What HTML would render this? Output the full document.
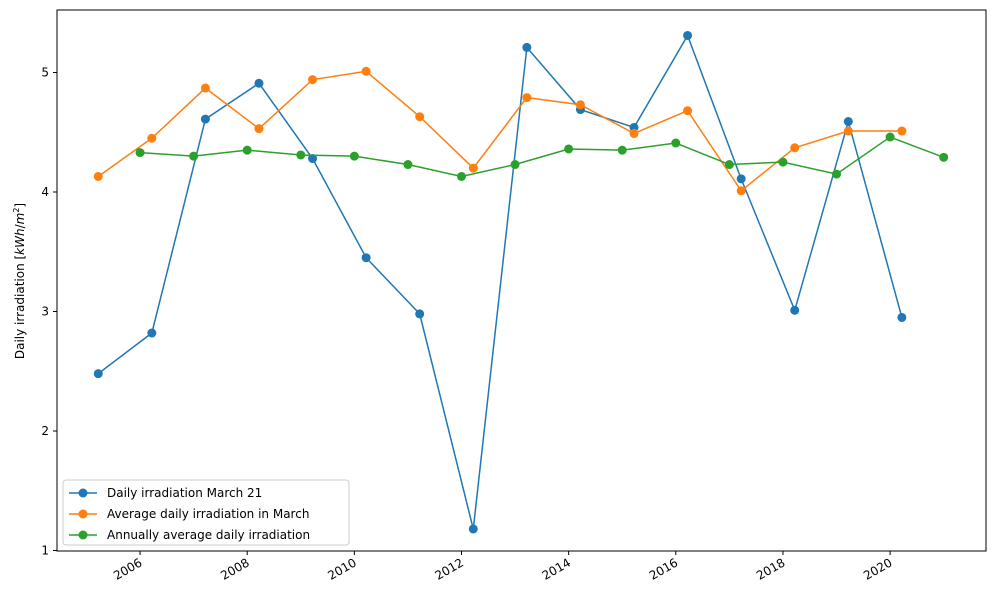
<!DOCTYPE html>
<html><head><meta charset="utf-8"><style>
body{margin:0;background:#fff;font-family:"Liberation Sans","DejaVu Sans",sans-serif}
svg text{font-family:"DejaVu Sans","Liberation Sans",sans-serif;font-size:12px;fill:#000}
</style></head><body>
<svg id="chart" width="995" height="603" xmlns="http://www.w3.org/2000/svg"></svg>
<script>
const years=[2005,2006,2007,2008,2009,2010,2011,2012,2013,2014,2015,2016,2017,2018,2019,2020];
const march21=[2.48,2.82,4.61,4.91,4.28,3.45,2.98,1.18,5.21,4.69,4.54,5.31,4.11,3.01,4.59,2.95];
const marchAvg=[4.13,4.45,4.87,4.53,4.94,5.01,4.63,4.20,4.79,4.73,4.49,4.68,4.01,4.37,4.51,4.51];
const annualYears=[2006,2007,2008,2009,2010,2011,2012,2013,2014,2015,2016,2017,2018,2019,2020,2021];
const annualAvg=[4.33,4.30,4.35,4.31,4.30,4.23,4.13,4.23,4.36,4.35,4.41,4.23,4.25,4.15,4.46,4.29];
const xTicks=[2006,2008,2010,2012,2014,2016,2018,2020];
const yTicks=[1,2,3,4,5];
const L=57,R=986,T=10,B=551;
const xMin=2004.45,xMax=2021.79;
const X=v=>L+(v-xMin)/(xMax-xMin)*(R-L);
const Y=v=>550.5-(v-1)*119.5;
const svg=document.getElementById('chart');
const NS='http://www.w3.org/2000/svg';
function mk(tag,attrs,parent){const e=document.createElementNS(NS,tag);for(const k in attrs)e.setAttribute(k,attrs[k]);(parent||svg).appendChild(e);return e;}
const frame=mk('rect',{x:L,y:T,width:R-L,height:B-T,fill:'none',stroke:'#000','stroke-width':1});


xTicks.forEach(t=>{const x=X(t);
 const tk=mk('line',{x1:x,x2:x,y1:B,y2:B+4,stroke:'#000'});
 
 
 const tx=mk('text',{x:x+3,y:B+14,'text-anchor':'end',transform:`rotate(-30 ${x+3} ${B+14})`});
 tx.textContent=t;
 
 
});
yTicks.forEach(t=>{const y=Y(t);
 const tk=mk('line',{x1:L-4,x2:L,y1:y,y2:y,stroke:'#000'});
 
 
 const tx=mk('text',{x:L-8,y:y+4,'text-anchor':'end'});
 tx.textContent=t;
 
 
});
const yt=mk('text',{x:0,y:0,'text-anchor':'middle',transform:'translate(24 281) rotate(-90)'});
yt.innerHTML='Daily irradiation [<tspan font-style="italic">kWh</tspan>/<tspan font-style="italic">m</tspan><tspan font-size="8" dy="-5">2</tspan><tspan dy="5">]</tspan>';


function series(xs,ys,color,name){
 const g=mk('g',{});
 
 
 const pts=xs.map((x,i)=>X(x)+','+Y(ys[i])).join(' ');
 mk('polyline',{points:pts,fill:'none',stroke:color,'stroke-width':1.5},g);
 xs.forEach((x,i)=>{const c=mk('circle',{cx:X(x),cy:Y(ys[i]),r:4.5,fill:color},g);
  
  });
}
series(years.map(y=>y+0.22),march21,'#1f77b4','march21-series');
series(years.map(y=>y+0.22),marchAvg,'#ff7f0e','march-avg-series');
series(annualYears,annualAvg,'#2ca02c','annual-avg-series');
const lg=mk('g',{});


mk('rect',{x:63,y:480,width:286,height:65,rx:3,fill:'#fff',stroke:'#ccc'},lg);
[['Daily irradiation March 21','#1f77b4'],['Average daily irradiation in March','#ff7f0e'],['Annually average daily irradiation','#2ca02c']].forEach((e,i)=>{
 const y=493+i*21;
 mk('line',{x1:69,x2:97,y1:y,y2:y,stroke:e[1],'stroke-width':1.5},lg);
 mk('circle',{cx:83,cy:y,r:4.5,fill:e[1]},lg);
 const t=mk('text',{x:107,y:y+4},lg);t.textContent=e[0];
 
 
});
</script>
</body></html>
